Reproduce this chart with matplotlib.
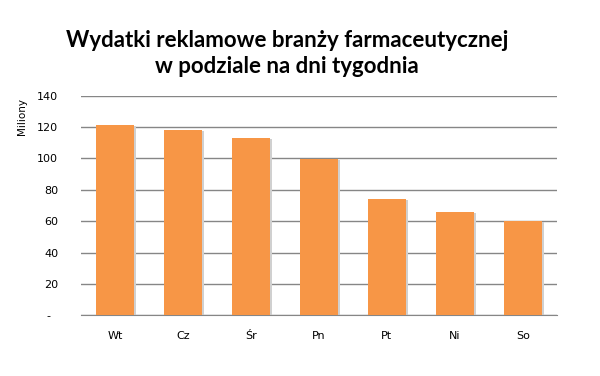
import matplotlib
matplotlib.use("Agg")
import matplotlib.pyplot as plt
from matplotlib.transforms import ScaledTranslation

categories = ["Wt", "Cz", "Śr", "Pn", "Pt", "Ni", "So"]
values = [121.2, 118.1, 113.0, 99.6, 74.2, 65.9, 60.2]
yticks = [0, 20, 40, 60, 80, 100, 120, 140]
ytick_labels = ["-", "20", "40", "60", "80", "100", "120", "140"]

fig = plt.figure(figsize=(6, 3.76), dpi=100)
ax = fig.add_axes([0.135, 0.161, 0.793, 0.585])

x = list(range(len(categories)))
bw = 0.56
shadow = ScaledTranslation(2/100, -1/100, fig.dpi_scale_trans)
ax.bar(x, values, width=bw, color="#d0d0d0", zorder=2,
       transform=ax.transData + shadow)
ax.bar(x, values, width=bw, color="#f79646", zorder=3)

ax.set_xlim(-0.5, len(categories) - 0.5)
ax.set_ylim(0, 140)
ax.set_yticks(yticks)
ax.set_yticklabels(ytick_labels)
ax.set_xticks(x)
ax.set_xticklabels(categories)
ax.yaxis.grid(True, color="#868686", linewidth=1)
ax.set_axisbelow(True)
for s in ["top", "right", "left"]:
    ax.spines[s].set_visible(False)
ax.spines["bottom"].set_color("#868686")
ax.tick_params(axis="both", length=0, labelsize=8, colors="black")
ax.tick_params(axis="y", pad=16.5)
ax.tick_params(axis="x", pad=11)

lbl0 = ax.get_yticklabels()[0]
lbl0.set_transform(lbl0.get_transform() + ScaledTranslation(-8/100, 0, fig.dpi_scale_trans))

fig.text(0.037, 0.74, "Miliony", rotation=90, ha="center", va="top", fontsize=7.5)
fig.text(0.478, 0.92, "Wydatki reklamowe branży farmaceutycznej\nw podziale na dni tygodnia",
         ha="center", va="top", fontsize=16, fontweight="bold", family="Lato",
         linespacing=1.3)

fig.savefig("out.png", dpi=100)
